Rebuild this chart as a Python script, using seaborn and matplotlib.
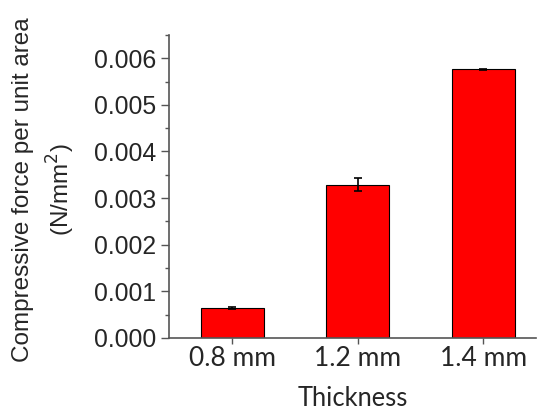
import numpy as np
import pandas as pd
import matplotlib
matplotlib.use("Agg")
import matplotlib.pyplot as plt
from matplotlib.ticker import AutoMinorLocator, MultipleLocator
import seaborn as sns

# datos
thickness = ["0.8 mm", "1.2 mm", "1.4 mm"]
force = [0.000645, 0.00329, 0.00576]
force_err = [0.00002, 0.00014, 0.00002]

df = pd.DataFrame({"thickness": thickness, "force": force, "err": force_err})

sns.set_style("ticks")

fig = plt.figure(figsize=(5.38, 4.12), dpi=100)
ax = fig.add_axes([0.314, 0.180, 0.682, 0.735])

sns.barplot(
    data=df,
    x="thickness",
    y="force",
    color="#ff0000",
    saturation=1,
    edgecolor="black",
    linewidth=0.8,
    width=0.5,
    errorbar=None,
    ax=ax,
)

ax.errorbar(
    x=np.arange(len(df)),
    y=df["force"],
    yerr=df["err"],
    fmt="none",
    ecolor="black",
    elinewidth=1.2,
    capsize=3,
    capthick=1.2,
)

ax.set_xlim(-0.504, 2.42)
ax.set_ylim(0, 0.0065)
ax.yaxis.set_major_locator(MultipleLocator(0.001))
ax.yaxis.set_minor_locator(AutoMinorLocator(2))
ax.yaxis.set_major_formatter(plt.FormatStrFormatter("%.3f"))

for s in ["top", "right"]:
    ax.spines[s].set_visible(False)
for s in ["left", "bottom"]:
    ax.spines[s].set_color("#555555")
    ax.spines[s].set_linewidth(1.2)

ax.tick_params(axis="y", which="major", length=6, width=1, color="#555555",
               labelsize=17.8, pad=3)
ax.tick_params(axis="y", which="minor", length=3, width=1, color="#555555")
ax.tick_params(axis="x", length=4, width=1, color="#555555", labelsize=19, pad=2)

for lab in ax.get_yticklabels():
    lab.set_family("Liberation Sans")
for lab in ax.get_xticklabels():
    lab.set_family("Lato")

ax.set_xlabel("Thickness", fontsize=18.4, family="Lato", labelpad=11)
ax.set_ylabel("Compressive force per unit area\n(N/mm$^2$)", fontsize=17.5,
              family="Liberation Sans", linespacing=1.45)
ax.yaxis.set_label_coords(-0.25, 0.49)

fig.savefig("out.png", dpi=100)
